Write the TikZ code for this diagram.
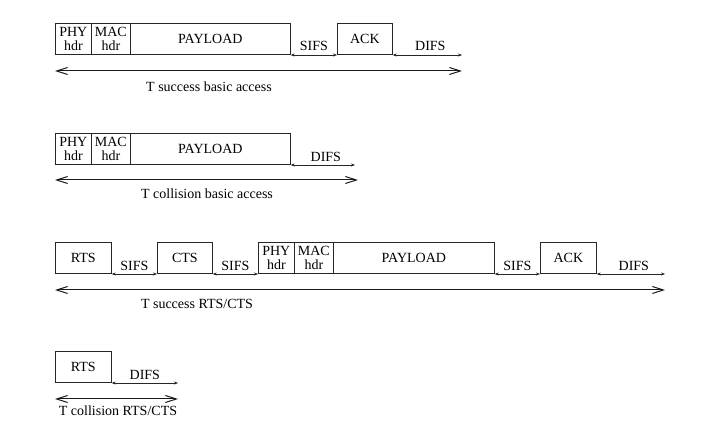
\documentclass[tikz,border=0pt]{standalone}
\usepackage{fontspec}
\setmainfont{Liberation Serif}
\usetikzlibrary{arrows.meta,calc}
\newcommand{\lblfont}{\fontsize{14}{14}\selectfont}
\begin{document}
\begin{tikzpicture}[x=1pt,y=1pt,
  fbox/.style={draw=black!85, line width=0.7pt, inner sep=0pt, minimum height=31pt,
    anchor=south west, font=\lblfont, align=center},
  gaplbl/.style={font=\lblfont, anchor=base, inner sep=0pt},
  caplbl/.style={font=\lblfont, anchor=base, inner sep=0pt},
  sarr/.style={draw=black!85, line width=0.5pt, {Stealth[length=4pt,width=3pt]}-{Stealth[length=4pt,width=3pt]}},
  barr/.style={draw=black!90, line width=1pt, {Straight Barb[length=11pt,width=7pt]}-{Straight Barb[length=11pt,width=7pt]}}
]
\useasboundingbox (0,0) rectangle (724,431);
% ---------- Row 1: success basic access
\node[fbox, minimum width=36pt] (phy1) at (55,376) {PHY\\hdr};
\node[fbox, minimum width=39pt] (mac1) at (91,376) {MAC\\hdr};
\node[fbox, minimum width=160pt] (pay1) at (130,376) {PAYLOAD};
\node[fbox, minimum width=55pt] (ack1) at (337,376) {ACK};
\coordinate (d1) at (462,376);
\draw[sarr] (pay1.south east) -- (ack1.south west);
\draw[sarr] (ack1.south east) -- (d1);
\node[gaplbl] (s1l) at ($(pay1.south east)!0.5!(ack1.south west)+(0,4)$) {SIFS};
\node[gaplbl] (d1l) at ($(ack1.south east)!0.5!(d1)+(3,4)$) {DIFS};
\coordinate (b1l) at (55,360);
\coordinate (b1r) at (462,360);
\draw[barr] (b1l) -- (b1r);
\node[caplbl] (c1) at (209,339) {T success basic access};
% ---------- Row 2: collision basic access
\node[fbox, minimum width=36pt] (phy2) at (55,266) {PHY\\hdr};
\node[fbox, minimum width=39pt] (mac2) at (91,266) {MAC\\hdr};
\node[fbox, minimum width=160pt] (pay2) at (130,266) {PAYLOAD};
\coordinate (d2) at (355,266);
\draw[sarr] (pay2.south east) -- (d2);
\node[gaplbl] (d2l) at ($(pay2.south east)!0.5!(d2)+(3,3)$) {DIFS};
\coordinate (b2l) at (55,251);
\coordinate (b2r) at (358,251);
\draw[barr] (b2l) -- (b2r);
\node[caplbl] (c2) at (207,232) {T collision basic access};
% ---------- Row 3: success RTS/CTS
\node[fbox, minimum width=56pt] (rts3) at (55,157) {RTS};
\node[fbox, minimum width=55pt] (cts3) at (157,157) {CTS};
\node[fbox, minimum width=36pt] (phy3) at (258,157) {PHY\\hdr};
\node[fbox, minimum width=39pt] (mac3) at (294,157) {MAC\\hdr};
\node[fbox, minimum width=161pt] (pay3) at (333,157) {PAYLOAD};
\node[fbox, minimum width=56pt] (ack3) at (540,157) {ACK};
\coordinate (d3) at (665,157);
\draw[sarr] (rts3.south east) -- (cts3.south west);
\draw[sarr] (cts3.south east) -- (phy3.south west);
\draw[sarr] (pay3.south east) -- (ack3.south west);
\draw[sarr] (ack3.south east) -- (d3);
\node[gaplbl] (s3a) at ($(rts3.south east)!0.5!(cts3.south west)+(0,3)$) {SIFS};
\node[gaplbl] (s3b) at ($(cts3.south east)!0.5!(phy3.south west)+(0,3)$) {SIFS};
\node[gaplbl] (s3c) at ($(pay3.south east)!0.5!(ack3.south west)+(0,3)$) {SIFS};
\node[gaplbl] (d3l) at ($(ack3.south east)!0.5!(d3)+(3,3)$) {DIFS};
\coordinate (b3l) at (55,141);
\coordinate (b3r) at (665,141);
\draw[barr] (b3l) -- (b3r);
\node[caplbl] (c3) at (197,122) {T success RTS/CTS};
% ---------- Row 4: collision RTS/CTS
\node[fbox, minimum width=56pt] (rts4) at (55,48) {RTS};
\coordinate (d4) at (178,48);
\draw[sarr] (rts4.south east) -- (d4);
\node[gaplbl] (d4l) at ($(rts4.south east)!0.5!(d4)+(0,3)$) {DIFS};
\coordinate (b4l) at (55,32);
\coordinate (b4r) at (178,32);
\draw[barr] (b4l) -- (b4r);
\node[caplbl] (c4) at (118,15.5) {T collision RTS/CTS};
\end{tikzpicture}
\end{document}
